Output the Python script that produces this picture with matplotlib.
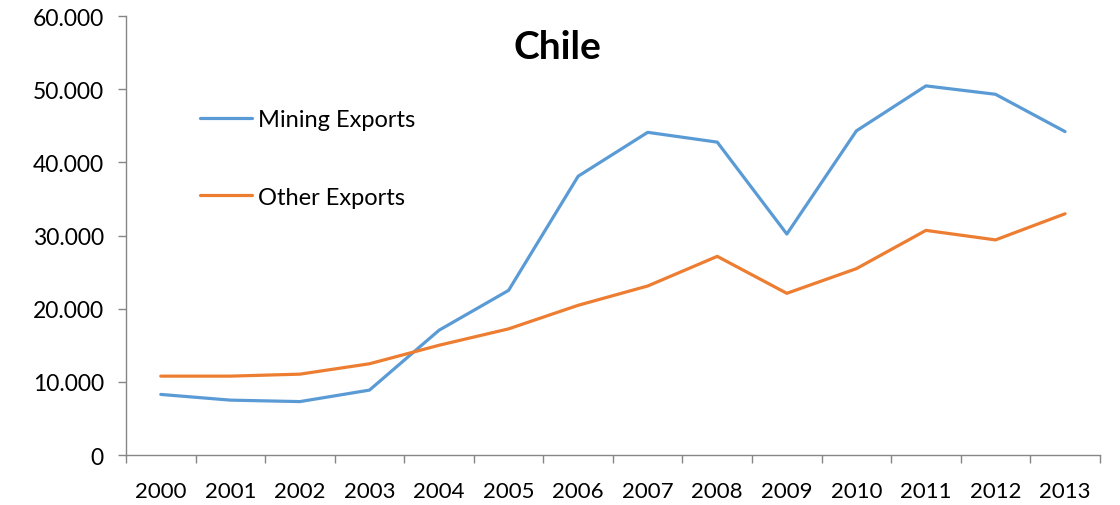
import matplotlib
matplotlib.use("Agg")
import matplotlib.pyplot as plt
from matplotlib.ticker import FuncFormatter, FixedLocator

plt.rcParams['font.family'] = ['Lato', 'DejaVu Sans']

years = ['2000', '2001', '2002', '2003', '2004', '2005', '2006',
         '2007', '2008', '2009', '2010', '2011', '2012', '2013']
mining_exports = [8280, 7500, 7300, 8870, 17050, 22500, 38100,
                  44100, 42760, 30200, 44300, 50450, 49300, 44200]
other_exports = [10780, 10780, 11050, 12470, 15000, 17240, 20460,
                 23100, 27150, 22100, 25470, 30700, 29400, 32970]

blue = '#5B9BD5'
orange = '#ED7D31'
axis_grey = '#868686'

fig = plt.figure(figsize=(11.2, 5.06), dpi=100)
ax = fig.add_axes([0.1125, 0.0988, 0.8695, 0.8676])

x = list(range(len(years)))
ax.plot(x, mining_exports, color=blue, lw=2.3, label='Mining Exports',
        solid_joinstyle='round', solid_capstyle='round')
ax.plot(x, other_exports, color=orange, lw=2.3, label='Other Exports',
        solid_joinstyle='round', solid_capstyle='round')

ax.set_xlim(-0.5, len(years) - 0.5)
ax.set_ylim(0, 60000)

# category boundaries carry the tick marks, labels sit at category centres
ax.xaxis.set_major_locator(FixedLocator([i - 0.5 for i in range(len(years) + 1)]))
ax.xaxis.set_minor_locator(FixedLocator(x))
ax.set_xticklabels([], minor=False)
ax.set_xticklabels(years, minor=True)
ax.tick_params(axis='x', which='major', length=6, width=1, color=axis_grey,
               direction='out')
ax.tick_params(axis='x', which='minor', length=0, pad=19, labelsize=16)

ax.set_yticks(range(0, 60001, 10000))
ax.yaxis.set_major_formatter(
    FuncFormatter(lambda v, p: '0' if v == 0 else f'{int(v):,}'.replace(',', '.')))
ax.tick_params(axis='y', length=6, width=1, color=axis_grey, direction='out',
               labelsize=16.5, pad=10)

for side in ('top', 'right'):
    ax.spines[side].set_visible(False)
for side in ('left', 'bottom'):
    ax.spines[side].set_color(axis_grey)
    ax.spines[side].set_linewidth(1)

fig.text(0.498, 1 - 59 / 506, 'Chile', fontsize=28, fontweight='bold',
         ha='center', va='baseline')

ax.legend(loc='upper left', bbox_to_anchor=(0.066, 0.81), frameon=False,
          fontsize=17, handlelength=2.2, handletextpad=0.25, labelspacing=2.4,
          borderaxespad=0)

fig.savefig('out.png', dpi=100)
